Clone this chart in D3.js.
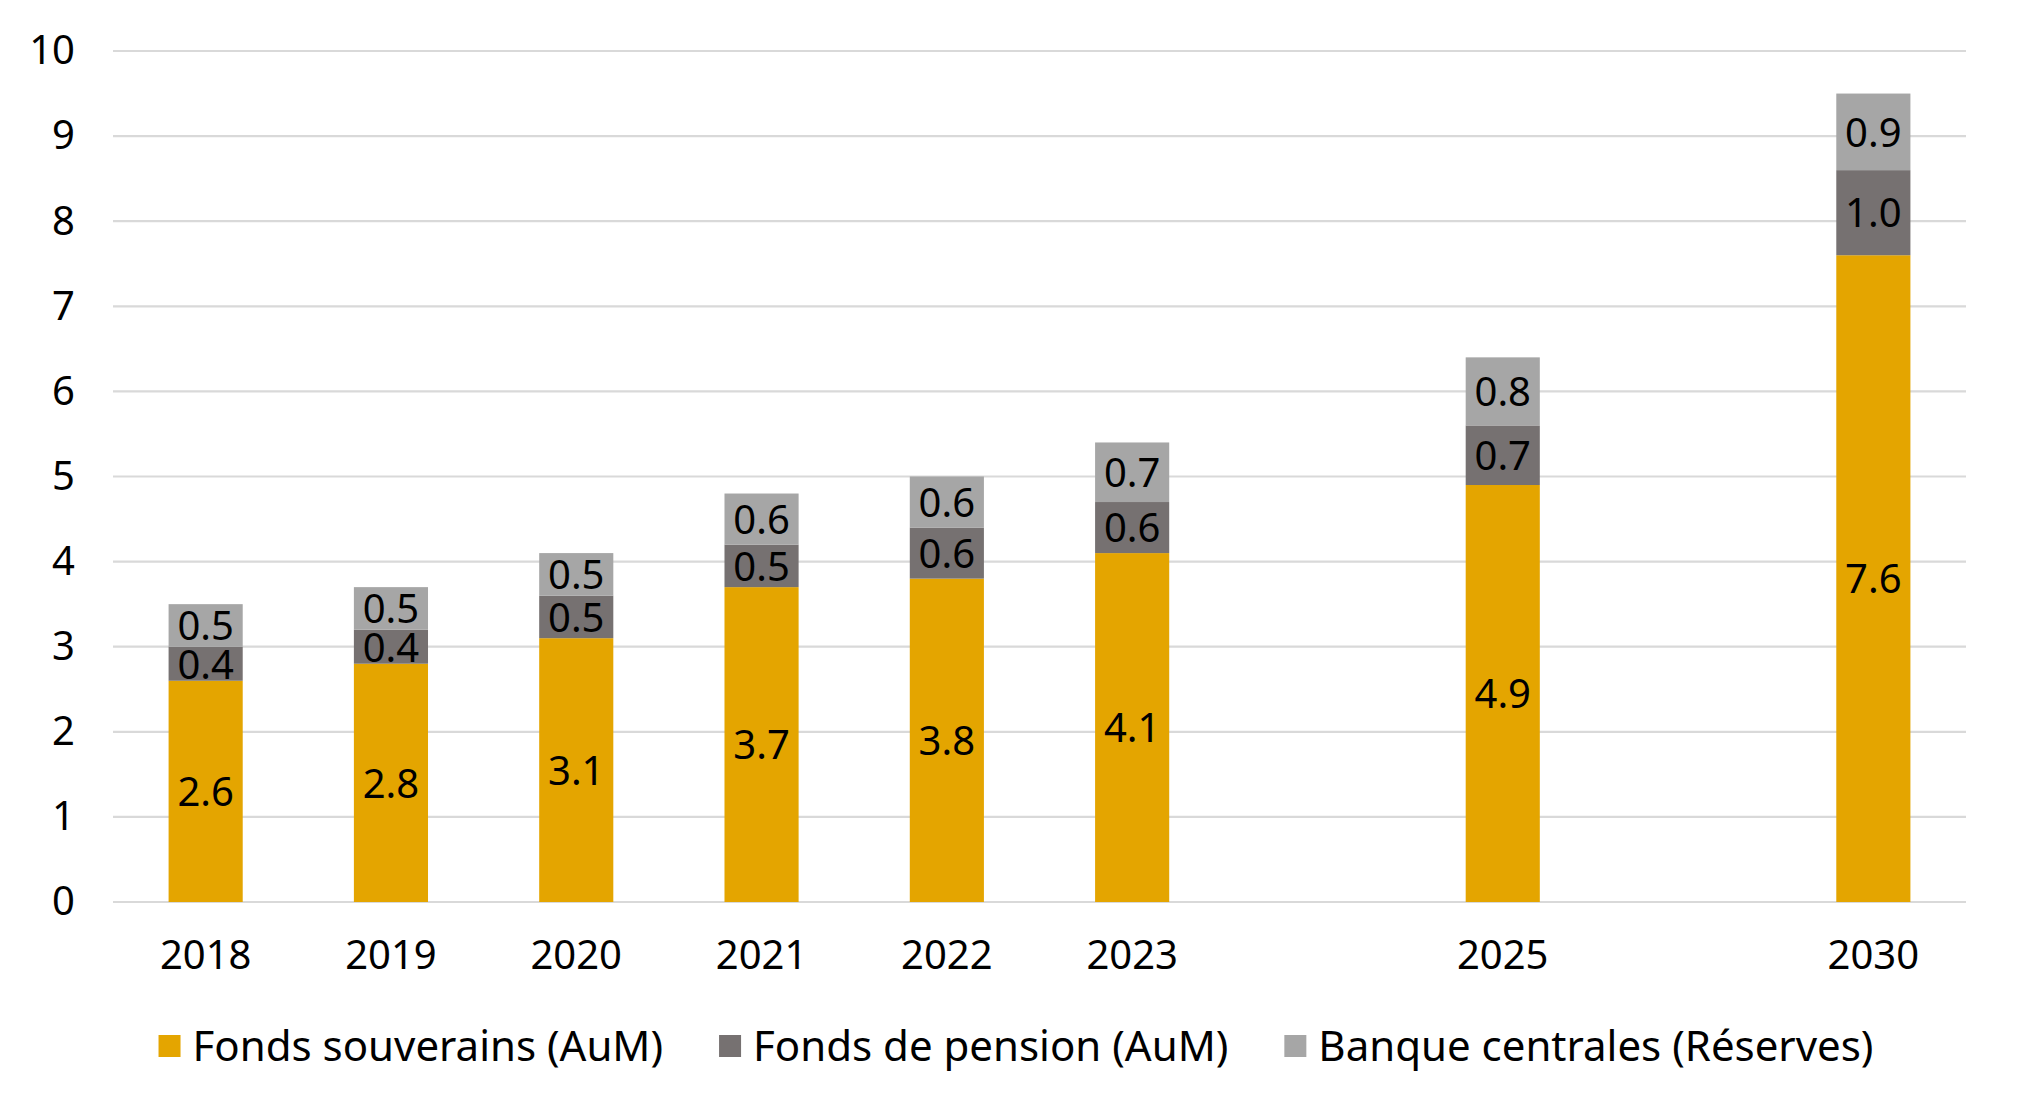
<!DOCTYPE html>
<html>
<head>
<meta charset="utf-8">
<script src="https://cdn.jsdelivr.net/npm/d3@7"></script>
<style>
  html, body { margin: 0; padding: 0; background: #fff; }
  svg { display: block; font-family: "Noto Sans", sans-serif; }
</style>
</head>
<body>
<svg id="chart" width="2017" height="1114"></svg>
<script>
// ---- Data ----
const years = ["2018", "2019", "2020", "2021", "2022", "2023", "2025", "2030"];
// x slots (empty slots keep the uneven time spacing of the original)
const slots = ["2018", "2019", "2020", "2021", "2022", "2023", "gap1", "2025", "gap2", "2030"];
const souverains = [2.6, 2.8, 3.1, 3.7, 3.8, 4.1, 4.9, 7.6];
const pension    = [0.4, 0.4, 0.5, 0.5, 0.6, 0.6, 0.7, 1.0];
const banques    = [0.5, 0.5, 0.5, 0.6, 0.6, 0.7, 0.8, 0.9];
const seriesNames = ["Fonds souverains (AuM)", "Fonds de pension (AuM)", "Banque centrales (Réserves)"];
const yTicks = [0, 1, 2, 3, 4, 5, 6, 7, 8, 9, 10];

// ---- Layout ----
const colors = ["#E4A500", "#767171", "#A6A6A6"];
const margin = { left: 113, right: 2017 - 1966, top: 51, bottom: 1114 - 902 };
const W = 2017, H = 1114;
const svg = d3.select("#chart");

const x = d3.scaleBand().domain(slots).range([margin.left, W - margin.right]).paddingInner(0.6).paddingOuter(0.3);
const y = d3.scaleLinear().domain([0, 10]).range([H - margin.bottom, margin.top]);

const keys = ["s", "p", "b"];
const table = years.map((yr, i) => ({ year: yr, s: souverains[i], p: pension[i], b: banques[i] }));
const stacked = d3.stack().keys(keys)(table);

// Gridlines
svg.append("g")
  .selectAll("line").data(yTicks).join("line")
  .attr("x1", margin.left).attr("x2", W - margin.right)
  .attr("y1", d => y(d)).attr("y2", d => y(d))
  .attr("stroke", "#D9D9D9").attr("stroke-width", 2.2);

// Y axis labels
const yAxis = d3.axisLeft(y).tickValues(yTicks).tickSize(0).tickPadding(0).tickFormat(d3.format("d"));
const yg = svg.append("g").attr("transform", `translate(75,0)`).call(yAxis);
yg.select(".domain").remove();
yg.selectAll("text").attr("font-size", 40).attr("fill", "#000").attr("font-family", "Noto Sans");

// X axis labels
const xAxis = d3.axisBottom(x).tickSize(0).tickPadding(0).tickFormat(d => d.startsWith("gap") ? "" : d);
const xg = svg.append("g").attr("transform", `translate(0,${y(0) + 39})`).call(xAxis);
xg.select(".domain").remove();
xg.selectAll("text").attr("font-size", 40).attr("fill", "#000").attr("font-family", "Noto Sans");

// Bars
const layers = svg.append("g").selectAll("g").data(stacked).join("g")
  .attr("fill", (d, i) => colors[i]);
layers.selectAll("rect").data(d => d).join("rect")
  .attr("x", d => x(d.data.year))
  .attr("width", x.bandwidth())
  .attr("y", d => y(d[1]))
  .attr("height", d => y(d[0]) - y(d[1]));

// Data labels
const fmt = d3.format(".1f");
const lab = svg.append("g");
stacked.forEach(layer => {
  lab.selectAll(null).data(layer).join("text")
    .attr("x", d => x(d.data.year) + x.bandwidth() / 2)
    .attr("y", d => (y(d[0]) + y(d[1])) / 2)
    .attr("dy", "0.37em")
    .attr("text-anchor", "middle")
    .attr("font-size", 40)
    .attr("fill", "#000")
    .text(d => fmt(d[1] - d[0]));
});

// Legend
const legend = svg.append("g");
const sw = 22, gapSwText = 12, gapItems = 56, legY = 1046;
let cx = 0;
seriesNames.forEach((name, i) => {
  const g = legend.append("g");
  g.append("rect").attr("x", 0).attr("y", -sw / 2).attr("width", sw).attr("height", sw).attr("fill", colors[i]);
  const t = g.append("text").attr("x", sw + gapSwText).attr("y", 0).attr("dy", "0.35em")
    .attr("font-size", 42).attr("fill", "#000").text(name);
  const w = sw + gapSwText + t.node().getComputedTextLength();
  g.attr("transform", `translate(${cx},${legY})`);
  cx += w + gapItems;
});
const totalW = cx - gapItems;
legend.attr("transform", `translate(${1016 - totalW / 2},0)`);
</script>
</body>
</html>
